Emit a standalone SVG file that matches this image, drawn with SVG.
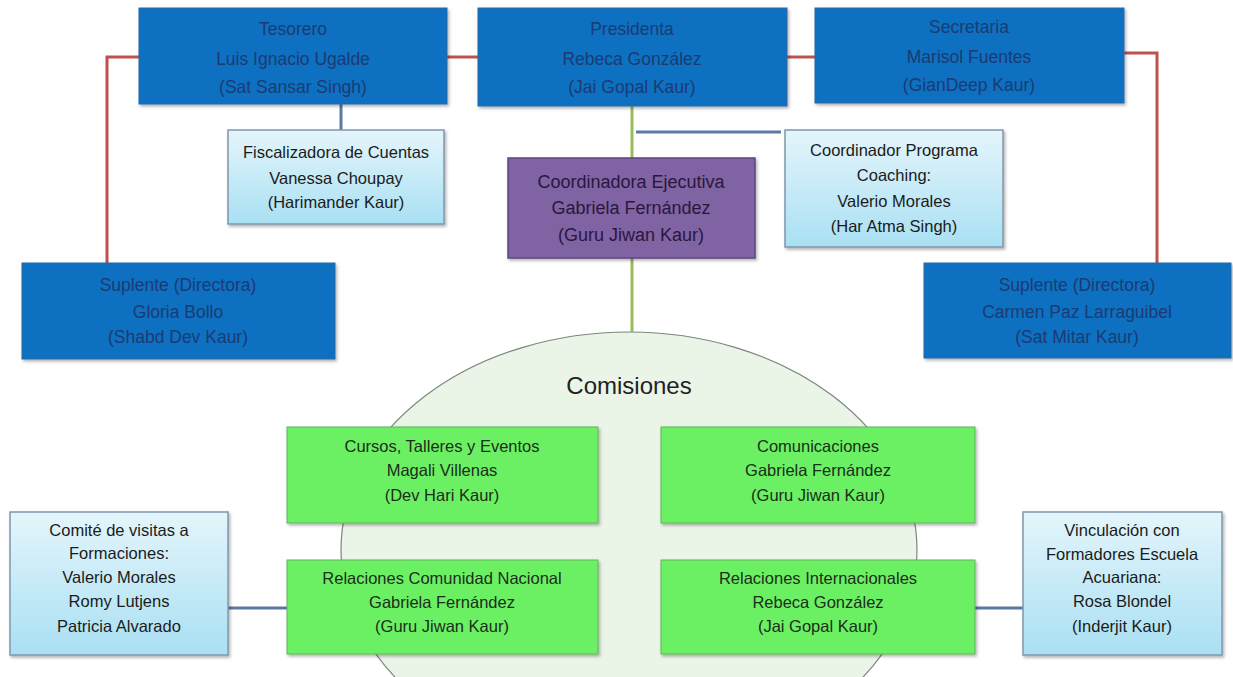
<svg xmlns="http://www.w3.org/2000/svg" width="1233" height="677" viewBox="0 0 1233 677">
<defs>
<linearGradient id="lb" x1="0" y1="0" x2="0" y2="1">
<stop offset="0" stop-color="#e4f5fb"/>
<stop offset="1" stop-color="#a9e0f3"/>
</linearGradient>
<filter id="sh" x="-5%" y="-5%" width="115%" height="120%">
<feDropShadow dx="1.5" dy="2" stdDeviation="1.5" flood-color="#000" flood-opacity="0.3"/>
</filter>
</defs>
<style>
text{font-family:"Liberation Sans",Arial,sans-serif;font-size:16.5px;text-anchor:middle}
.blue rect{fill:#0a6fc1;stroke:#2a6aa8;stroke-width:1}
.blue text{fill:#1c3b72;font-size:17.5px}
.lite rect{fill:url(#lb);stroke:#7f97ad;stroke-width:1.5}
.lite text{fill:#1b1b1b}
.purp rect{fill:#8064a2;stroke:#5c4680;stroke-width:1.5}
.purp text{fill:#2a1740;font-size:18px}
.grn rect{fill:#6cf064;stroke:#5fb45a;stroke-width:1}
.grn text{fill:#1a2e1a}
.red{stroke:#c0504d;stroke-width:3;fill:none}
.bl{stroke:#5a79a3;stroke-width:3;fill:none}
.ol{stroke:#9bbb59;stroke-width:3;fill:none}
</style>
<rect width="1233" height="677" fill="#ffffff"/>
<g id="comisiones">
<ellipse cx="629" cy="550" rx="288" ry="218" fill="#eaf5e7" stroke="#7c867c" stroke-width="1.2"/>
<text x="629" y="394" style="font-size:24px;fill:#222">Comisiones</text>
</g>
<g id="connectors">
<polyline class="red" points="139,57 107,57 107,263"/>
<line class="red" x1="447" y1="57" x2="478" y2="57"/>
<line class="red" x1="787" y1="57" x2="815" y2="57"/>
<polyline class="red" points="1124,53 1157,53 1157,263"/>
<line class="bl" x1="341" y1="104" x2="341" y2="130"/>
<line class="ol" x1="632" y1="106" x2="632" y2="158"/>
<line class="ol" x1="632" y1="258" x2="632" y2="332"/>
<line class="bl" x1="636" y1="132" x2="781" y2="132"/>
<line class="bl" x1="228" y1="608" x2="287" y2="608"/>
<line class="bl" x1="975" y1="608" x2="1023" y2="608"/>
</g>
<g id="tesorero" class="blue">
<rect x="139" y="8" width="308" height="96" filter="url(#sh)"/>
<text x="293" y="35">Tesorero</text>
<text x="293" y="65">Luis Ignacio Ugalde</text>
<text x="293" y="93">(Sat Sansar Singh)</text>
</g>
<g id="presidenta" class="blue">
<rect x="478" y="8" width="309" height="98" filter="url(#sh)"/>
<text x="632" y="35">Presidenta</text>
<text x="632" y="65">Rebeca González</text>
<text x="632" y="93">(Jai Gopal Kaur)</text>
</g>
<g id="secretaria" class="blue">
<rect x="815" y="8" width="309" height="95" filter="url(#sh)"/>
<text x="969" y="33">Secretaria</text>
<text x="969" y="63">Marisol Fuentes</text>
<text x="969" y="91">(GianDeep Kaur)</text>
</g>
<g id="fiscalizadora" class="lite">
<rect x="228" y="130" width="216" height="94" filter="url(#sh)"/>
<text x="336" y="158">Fiscalizadora de Cuentas</text>
<text x="336" y="184">Vanessa Choupay</text>
<text x="336" y="208">(Harimander Kaur)</text>
</g>
<g id="coordinadora" class="purp">
<rect x="508" y="158" width="247" height="100" filter="url(#sh)"/>
<text x="631" y="188">Coordinadora Ejecutiva</text>
<text x="631" y="214">Gabriela Fernández</text>
<text x="631" y="241">(Guru Jiwan Kaur)</text>
</g>
<g id="coaching" class="lite">
<rect x="785" y="130" width="218" height="117" filter="url(#sh)"/>
<text x="894" y="156">Coordinador Programa</text>
<text x="894" y="181">Coaching:</text>
<text x="894" y="207">Valerio Morales</text>
<text x="894" y="232">(Har Atma Singh)</text>
</g>
<g id="suplente-izq" class="blue">
<rect x="22" y="263" width="313" height="96" filter="url(#sh)"/>
<text x="178" y="291">Suplente (Directora)</text>
<text x="178" y="318">Gloria Bollo</text>
<text x="178" y="343">(Shabd Dev Kaur)</text>
</g>
<g id="suplente-der" class="blue">
<rect x="924" y="263" width="307" height="95" filter="url(#sh)"/>
<text x="1077" y="291">Suplente (Directora)</text>
<text x="1077" y="318">Carmen Paz Larraguibel</text>
<text x="1077" y="343">(Sat Mitar Kaur)</text>
</g>
<g id="cursos" class="grn">
<rect x="287" y="427" width="311" height="96" filter="url(#sh)"/>
<text x="442" y="452">Cursos, Talleres y Eventos</text>
<text x="442" y="476">Magali Villenas</text>
<text x="442" y="501">(Dev Hari Kaur)</text>
</g>
<g id="comunicaciones" class="grn">
<rect x="661" y="427" width="314" height="96" filter="url(#sh)"/>
<text x="818" y="452">Comunicaciones</text>
<text x="818" y="476">Gabriela Fernández</text>
<text x="818" y="501">(Guru Jiwan Kaur)</text>
</g>
<g id="relaciones-nacional" class="grn">
<rect x="287" y="560" width="311" height="94" filter="url(#sh)"/>
<text x="442" y="584">Relaciones Comunidad Nacional</text>
<text x="442" y="608">Gabriela Fernández</text>
<text x="442" y="632">(Guru Jiwan Kaur)</text>
</g>
<g id="relaciones-internacionales" class="grn">
<rect x="661" y="560" width="314" height="94" filter="url(#sh)"/>
<text x="818" y="584">Relaciones Internacionales</text>
<text x="818" y="608">Rebeca González</text>
<text x="818" y="632">(Jai Gopal Kaur)</text>
</g>
<g id="comite" class="lite">
<rect x="10" y="512" width="218" height="143" filter="url(#sh)"/>
<text x="119" y="536">Comité de visitas a</text>
<text x="119" y="559">Formaciones:</text>
<text x="119" y="583">Valerio Morales</text>
<text x="119" y="607">Romy Lutjens</text>
<text x="119" y="632">Patricia Alvarado</text>
</g>
<g id="vinculacion" class="lite">
<rect x="1023" y="512" width="199" height="143" filter="url(#sh)"/>
<text x="1122" y="536">Vinculación con</text>
<text x="1122" y="560">Formadores Escuela</text>
<text x="1122" y="583">Acuariana:</text>
<text x="1122" y="607">Rosa Blondel</text>
<text x="1122" y="632">(Inderjit Kaur)</text>
</g>
</svg>
